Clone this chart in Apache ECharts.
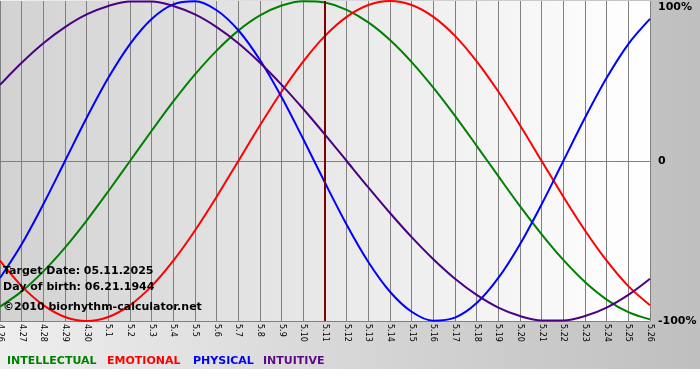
<!DOCTYPE html>
<html>
<head>
<meta charset="utf-8">
<script src="https://cdn.jsdelivr.net/npm/echarts@6/dist/echarts.min.js"></script>
<style>
html,body{margin:0;padding:0;background:#fff;}
#chart{width:700px;height:380px;}
</style>
</head>
<body>
<div id="chart"></div>
<script>
// Dates (x categories)
var days = ['4.26','4.27','4.28','4.29','4.30','5.1','5.2','5.3','5.4','5.5','5.6','5.7','5.8','5.9','5.10',
            '5.11','5.12','5.13','5.14','5.15','5.16','5.17','5.18','5.19','5.20','5.21','5.22','5.23','5.24','5.25','5.26'];
// Series values in percent
var intellectual = [-91.0,-81.5,-69.0,-54.1,-37.2,-18.9,0,18.9,37.2,54.1,69.0,81.5,91.0,97.2,99.9,
                    99.0,94.5,86.6,75.6,61.8,45.8,28.2,9.5,-9.5,-28.2,-45.8,-61.8,-75.6,-86.6,-94.5,-99.0];
var emotional = [-62.3,-78.2,-90.1,-97.5,-100,-97.5,-90.1,-78.2,-62.3,-43.4,-22.3,0,22.3,43.4,62.3,
                 78.2,90.1,97.5,100,97.5,90.1,78.2,62.3,43.4,22.3,0,-22.3,-43.4,-62.3,-78.2,-90.1];
var physical = [-73.1,-52.0,-27.0,0,27.0,52.0,73.1,88.8,97.9,99.8,94.2,81.7,63.1,39.8,13.6,
                -13.6,-39.8,-63.1,-81.7,-94.2,-99.8,-97.9,-88.8,-73.1,-52.0,-27.0,0,27.0,52.0,73.1,88.8];
var intuitive = [47.6,61.4,73.6,83.7,91.6,96.9,99.7,99.7,96.9,91.6,83.7,73.6,61.4,47.6,32.5,
                 16.5,0,-16.5,-32.5,-47.6,-61.4,-73.6,-83.7,-91.6,-96.9,-99.7,-99.7,-96.9,-91.6,-83.7,-73.6];
var targetDay = '5.11';
var yTicks = {'100':'100%','0':'0','-100':'-100%'};
var infoLines = ['Target Date: 05.11.2025','Day of birth: 06.21.1944','\u00a92010 biorhythm-calculator.net'];
var legendNames = ['INTELLECTUAL','EMOTIONAL','PHYSICAL','INTUITIVE'];

var colors = ['#008000','#ff0000','#0000ff','#4b0082'];
var legendColors = ['#008000','#ff0000','#0000ff','#5a0a86'];
var FONT = '"DejaVu Sans", Verdana, sans-serif';

var chart = echarts.init(document.getElementById('chart'));

function lineSeries(name, data, color, extra){
  var s = {
    name: name, type: 'line', data: data, smooth: 0.33, smoothMonotone: 'none', symbol: 'none',
    lineStyle: {color: color, width: 2}, itemStyle: {color: color},
    animation: false, z: 3
  };
  if (extra) for (var k in extra) s[k] = extra[k];
  return s;
}

var legendX = [7, 107, 193, 263];
var graphics = [
  {type:'rect', left:0, top:369, shape:{width:700, height:11}, style:{fill:'#ffffff'}, z:0, silent:true}
];
infoLines.forEach(function(t, i){
  graphics.push({type:'text', x:3, y:[271.5,287,307][i], z:100,
    style:{text:t, fill:'#000', font:'bold 11px ' + FONT, verticalAlign:'middle', align:'left'}});
});
legendNames.forEach(function(t, i){
  graphics.push({type:'text', x:legendX[i], y:361, z:100,
    style:{text:t, fill:legendColors[i], font:'bold 11px ' + FONT, verticalAlign:'middle', align:'left'}});
});

var option = {
  animation: false,
  backgroundColor: {type:'linear', x:0, y:0, x2:1, y2:0,
    colorStops:[{offset:0, color:'#eeeeee'},{offset:1, color:'#bfbfbf'}]},
  grid: {left:0, right:50, top:1, bottom:59, show:true, borderWidth:0,
    containLabel:false, outerBoundsMode:'none',
    backgroundColor: {type:'linear', x:0, y:0, x2:1, y2:0,
      colorStops:[{offset:0, color:'#d2d2d2'},{offset:1, color:'#ffffff'}]}},
  xAxis: {
    type:'category', data: days, boundaryGap:false,
    axisLine:{show:false}, axisTick:{show:false},
    axisLabel:{interval:0, rotate:-90, fontSize:8, fontFamily:FONT, color:'#000', margin:3},
    splitLine:{show:true, interval:0, lineStyle:{color:'#808080', width:1}}
  },
  yAxis: {
    type:'value', min:-100, max:100, interval:100, position:'right',
    axisLine:{show:false}, axisTick:{show:false},
    axisLabel:{margin:8, fontSize:11, fontWeight:'bold', fontFamily:FONT, color:'#000',
      formatter:function(v){ var s = yTicks[String(v)]; return v === 100 ? '{t|' + s + '}' : s; },
      rich:{t:{fontSize:11, fontWeight:'bold', fontFamily:FONT, color:'#000', padding:[12,0,0,0]}}},
    splitLine:{show:true, lineStyle:{color:['#808080','#808080','rgba(0,0,0,0)'], width:1}}
  },
  series: [
    lineSeries('INTELLECTUAL', intellectual, colors[0], {
      markLine:{silent:true, symbol:['none','none'], label:{show:false}, animation:false,
        lineStyle:{color:'#800000', width:2, type:'solid'},
        data:[{xAxis: targetDay}]}
    }),
    lineSeries('EMOTIONAL', emotional, colors[1]),
    lineSeries('PHYSICAL', physical, colors[2]),
    lineSeries('INTUITIVE', intuitive, colors[3])
  ],
  graphic: graphics
};
chart.setOption(option);
</script>
</body>
</html>
